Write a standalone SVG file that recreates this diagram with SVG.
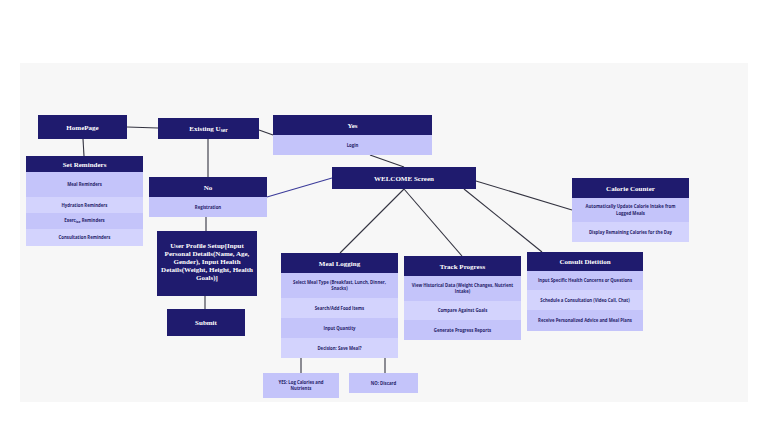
<svg xmlns="http://www.w3.org/2000/svg" width="768" height="431" viewBox="0 0 768 431">
<style>
.hd{fill:#1f1b6e}
.r1{fill:#c4c4fa}
.r2{fill:#d3d3fd}
.ht{font-family:"Liberation Serif","DejaVu Serif",serif;font-weight:bold;font-size:7px;fill:#ffffff;text-anchor:middle}
.rt{font-family:"Open Sans","Liberation Sans",sans-serif;font-weight:700;font-size:4.3px;fill:#27236a;text-anchor:middle}
.ln{stroke:#333340;stroke-width:1.1;fill:none}
</style>
<rect x="0" y="0" width="768" height="431" fill="#ffffff"/>
<rect x="20" y="63" width="728" height="339" fill="#f7f7f7"/>
<g id="connectors">
<line class="ln" x1="127" y1="127" x2="158" y2="128"/>
<line class="ln" x1="83" y1="139" x2="84" y2="156"/>
<line class="ln" x1="208" y1="139" x2="208" y2="177"/>
<line class="ln" x1="259" y1="130" x2="273" y2="135"/>
<line class="ln" x1="370" y1="155" x2="404" y2="167"/>
<line class="ln" x1="267" y1="197" x2="332" y2="178" style="stroke:#3b3b9a"/>
<line class="ln" x1="466" y1="178" x2="572" y2="210"/>
<line class="ln" x1="404" y1="189" x2="340" y2="253"/>
<line class="ln" x1="404" y1="189" x2="462" y2="256"/>
<line class="ln" x1="464" y1="189" x2="542" y2="252"/>
<line class="ln" x1="206" y1="217" x2="206" y2="231"/>
<line class="ln" x1="205" y1="296" x2="205" y2="309"/>
<line class="ln" x1="301" y1="358" x2="301" y2="373"/>
<line class="ln" x1="385" y1="358" x2="385" y2="373"/>
</g>
<g id="homepage">
<rect class="hd" x="38" y="115" width="89" height="24"/>
<text class="ht" x="82.5" y="129.5">HomePage</text>
</g>
<g id="existing-user">
<rect class="hd" x="158" y="118" width="101" height="21"/>
<text class="ht" x="208.5" y="130.5">Existing U<tspan font-size="5.5" dy="1">ser</tspan></text>
</g>
<g id="yes">
<rect class="hd" x="273" y="115" width="159" height="20"/>
<text class="ht" x="352.5" y="127.5">Yes</text>
<rect class="r1" x="273" y="135" width="159" height="20"/>
<text class="rt" x="352.5" y="146.5">Login</text>
</g>
<g id="welcome">
<rect class="hd" x="332" y="167" width="144" height="22"/>
<text class="ht" x="404" y="180.5">WELCOME Screen</text>
</g>
<g id="set-reminders">
<rect class="hd" x="26" y="156" width="117" height="16"/>
<text class="ht" x="84.5" y="166.5">Set Reminders</text>
<rect class="r1" x="26" y="172" width="117" height="25"/>
<text class="rt" x="84.5" y="185.5">Meal Reminders</text>
<rect class="r2" x="26" y="197" width="117" height="16"/>
<text class="rt" x="84.5" y="206.5">Hydration Reminders</text>
<rect class="r1" x="26" y="213" width="117" height="16"/>
<text class="rt" x="84.5" y="222">Exerc<tspan font-size="3.4" dy="0.8">ise</tspan><tspan dy="-0.8"> Reminders</tspan></text>
<rect class="r2" x="26" y="229" width="117" height="17"/>
<text class="rt" x="84.5" y="238.5">Consultation Reminders</text>
</g>
<g id="no">
<rect class="hd" x="149" y="177" width="118" height="20"/>
<text class="ht" x="208" y="189.5">No</text>
<rect class="r1" x="149" y="197" width="118" height="20"/>
<text class="rt" x="208" y="208.5">Registration</text>
</g>
<g id="user-profile">
<rect class="hd" x="157" y="231" width="100" height="65"/>
<text class="ht" x="207" y="248">User Profile Setup[Input</text>
<text class="ht" x="207" y="256">Personal Details(Name, Age,</text>
<text class="ht" x="207" y="264">Gender), Input Health</text>
<text class="ht" x="207" y="272">Details(Weight, Height, Health</text>
<text class="ht" x="207" y="280">Goals)]</text>
</g>
<g id="submit">
<rect class="hd" x="167" y="309" width="78" height="27"/>
<text class="ht" x="206" y="324.5">Submit</text>
</g>
<g id="meal-logging">
<rect class="hd" x="281" y="253" width="117" height="20"/>
<text class="ht" x="339.5" y="265.5">Meal Logging</text>
<rect class="r1" x="281" y="273" width="117" height="25"/>
<text class="rt" x="339.5" y="283.5">Select Meal Type (Breakfast, Lunch, Dinner,</text>
<text class="rt" x="339.5" y="290">Snacks)</text>
<rect class="r2" x="281" y="298" width="117" height="20"/>
<text class="rt" x="339.5" y="309.5">Search/Add Food Items</text>
<rect class="r1" x="281" y="318" width="117" height="20"/>
<text class="rt" x="339.5" y="329.5">Input Quantity</text>
<rect class="r2" x="281" y="338" width="117" height="20"/>
<text class="rt" x="339.5" y="349.5">Decision: Save Meal?</text>
</g>
<g id="track-progress">
<rect class="hd" x="404" y="256" width="117" height="20"/>
<text class="ht" x="462.5" y="268.5">Track Progress</text>
<rect class="r1" x="404" y="276" width="117" height="25"/>
<text class="rt" x="462.5" y="286.5">View Historical Data (Weight Changes, Nutrient</text>
<text class="rt" x="462.5" y="293">Intake)</text>
<rect class="r2" x="404" y="301" width="117" height="19"/>
<text class="rt" x="462.5" y="312">Compare Against Goals</text>
<rect class="r1" x="404" y="320" width="117" height="20"/>
<text class="rt" x="462.5" y="331.5">Generate Progress Reports</text>
</g>
<g id="calorie-counter">
<rect class="hd" x="572" y="178" width="117" height="20"/>
<text class="ht" x="630.5" y="190.5">Calorie Counter</text>
<rect class="r1" x="572" y="198" width="117" height="24"/>
<text class="rt" x="630.5" y="208">Automatically Update Calorie Intake from</text>
<text class="rt" x="630.5" y="214.5">Logged Meals</text>
<rect class="r2" x="572" y="222" width="117" height="20"/>
<text class="rt" x="630.5" y="233.5">Display Remaining Calories for the Day</text>
</g>
<g id="consult-dietition">
<rect class="hd" x="527" y="252" width="116" height="19"/>
<text class="ht" x="585" y="264">Consult Dietition</text>
<rect class="r1" x="527" y="271" width="116" height="19"/>
<text class="rt" x="585" y="282">Input Specific Health Concerns or Questions</text>
<rect class="r2" x="527" y="290" width="116" height="20"/>
<text class="rt" x="585" y="301.5">Schedule a Consultation (Video Call, Chat)</text>
<rect class="r1" x="527" y="310" width="116" height="21"/>
<text class="rt" x="585" y="322">Receive Personalized Advice and Meal Plans</text>
</g>
<g id="yes-log">
<rect class="r1" x="263" y="373" width="76" height="25"/>
<text class="rt" x="301" y="383.5">YES: Log Calories and</text>
<text class="rt" x="301" y="390">Nutrients</text>
</g>
<g id="no-discard">
<rect class="r1" x="349" y="373" width="69" height="20"/>
<text class="rt" x="383.5" y="384.5">NO: Discard</text>
</g>
</svg>
